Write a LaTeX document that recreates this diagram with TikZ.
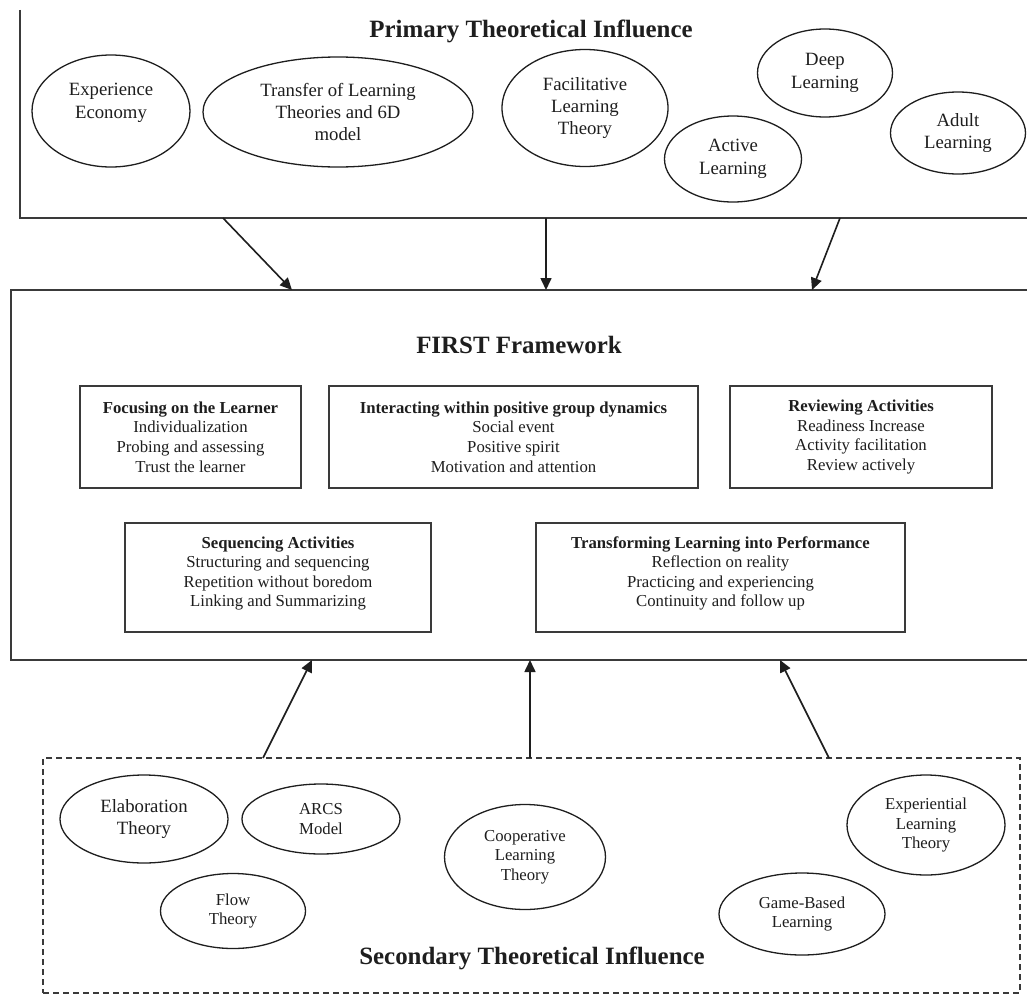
\documentclass[tikz,border=0pt]{standalone}
\usepackage{fontspec}
\setmainfont{Liberation Serif}
\usetikzlibrary{shapes.geometric,arrows.meta}
\definecolor{ink}{HTML}{1E1E1E}
\definecolor{linec}{HTML}{3A3A3A}
\tikzset{
  ell/.style={ellipse, draw=ink, line width=1.3bp, inner sep=0pt, outer sep=0pt, align=center, text=ink,
    font=\fontsize{18.8}{22.5}\selectfont},
  ellsm/.style={ell, font=\fontsize{16.8}{19.8}\selectfont},
  compbox/.style={rectangle, draw=linec, line width=1.6bp, inner sep=0pt, outer sep=0pt, align=center, text=ink,
    font=\fontsize{16.8}{19.6}\selectfont},
  ttl/.style={inner sep=0pt, text=ink, font=\fontsize{25}{30}\selectfont\bfseries},
  outerbox/.style={rectangle, line width=1.8bp, draw=linec, inner sep=0pt, outer sep=0pt},
  arr/.style={line width=1.6bp, draw=ink, -{Triangle[length=12bp,width=11bp]}},
}
\begin{document}
\begin{tikzpicture}[x=1bp,y=-1bp]
\useasboundingbox (0,0) rectangle (1027,995);
\clip (0,0) rectangle (1027,995);
\fill[white] (0,0) rectangle (1027,995);

% Primary box (top line and right side outside the picture)
\node[rectangle, inner sep=0pt, outer sep=0pt, minimum width=1030bp, minimum height=208bp, anchor=south west] (prim) at (20,218) {};
\draw[linec, line width=1.8bp] (prim.north west) -- (prim.south west) -- (prim.south east);
\node[ttl] (primt) at (531,31) {Primary Theoretical Influence};

\node[ell, minimum width=158bp, minimum height=112bp] (ee) at (111,111) {Experience\\Economy\\[-2bp]};
\node[ell, minimum width=270bp, minimum height=110bp] (tl) at (338,112) {Transfer of Learning\\Theories and 6D\\model};
\node[ell, minimum width=166bp, minimum height=117bp] (fl) at (585,108) {Facilitative\\Learning\\Theory};
\node[ell, minimum width=137bp, minimum height=86bp] (al) at (733,159) {Active\\Learning};
\node[ell, minimum width=135bp, minimum height=88bp] (dl) at (825,73) {Deep\\Learning};
\node[ell, minimum width=135bp, minimum height=82bp] (adl) at (958,133) {Adult\\Learning};

% FIRST framework box
\node[outerbox, minimum width=1040bp, minimum height=370bp, anchor=north west] (first) at (11,290) {};
\node[ttl] (firstt) at (519,345) {FIRST Framework};

\node[compbox, minimum width=221bp, minimum height=102bp] (foc) at (190.5,437)
  {\textbf{Focusing on the Learner}\\Individualization\\Probing and assessing\\Trust the learner};
\node[compbox, minimum width=369bp, minimum height=102bp] (int) at (513.5,437)
  {\textbf{Interacting within positive group dynamics}\\Social event\\Positive spirit\\Motivation and attention};
\node[compbox, minimum width=262bp, minimum height=102bp] (rev) at (861,437)
  {\textbf{Reviewing Activities}\\Readiness Increase\\Activity facilitation\\Review actively};
\node[compbox, minimum width=306bp, minimum height=109bp] (seq) at (278,577.5)
  {\textbf{Sequencing Activities}\\Structuring and sequencing\\Repetition without boredom\\Linking and Summarizing\\[-8bp]};
\node[compbox, minimum width=369bp, minimum height=109bp] (tra) at (720.5,577.5)
  {\textbf{Transforming Learning into Performance}\\Reflection on reality\\Practicing and experiencing\\Continuity and follow up\\[-8bp]};

% Secondary box
\node[rectangle, draw=linec, line width=1.5bp, dash pattern=on 6bp off 4bp, inner sep=0pt, outer sep=0pt,
  minimum width=977bp, minimum height=235bp, anchor=north west] (sec) at (43,758) {};
\node[ttl] (sect) at (532,958) {Secondary Theoretical Influence};

\node[ell, minimum width=168bp, minimum height=88bp] (et) at (144,819) {Elaboration\\Theory};
\node[ellsm, minimum width=158bp, minimum height=70bp] (arcs) at (321,819) {ARCS\\Model};
\node[ellsm, minimum width=145bp, minimum height=75bp] (ft) at (233,911) {Flow\\Theory};
\node[ellsm, minimum width=161bp, minimum height=105bp] (clt) at (525,857) {Cooperative\\Learning\\Theory};
\node[ellsm, minimum width=158bp, minimum height=100bp] (elt) at (926,825) {Experiential\\Learning\\Theory};
\node[ellsm, minimum width=166bp, minimum height=82bp] (gbl) at (802,914) {Game-Based\\Learning};

% Arrows
\draw[arr] (223,0 |- prim.south) -- (292,0 |- first.north);
\draw[arr] (546,0 |- prim.south) -- (546,0 |- first.north);
\draw[arr] (840,0 |- prim.south) -- (812,0 |- first.north);
\draw[arr] (263,0 |- sec.north) -- (312,0 |- first.south);
\draw[arr] (530,0 |- sec.north) -- (530,0 |- first.south);
\draw[arr] (829,0 |- sec.north) -- (780,0 |- first.south);
\end{tikzpicture}
\end{document}
